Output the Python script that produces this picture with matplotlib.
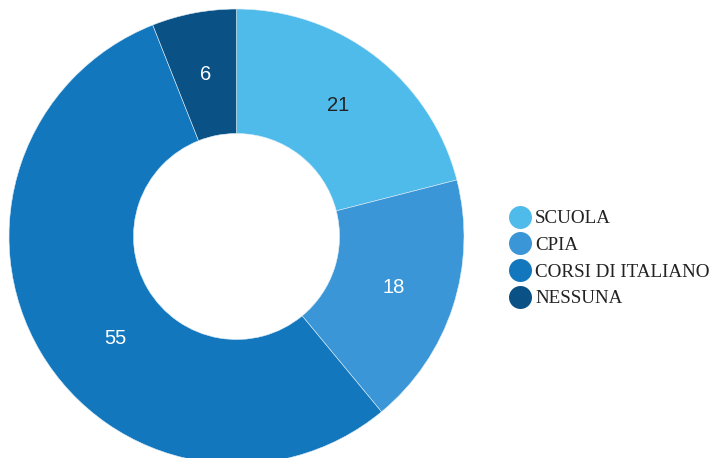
import matplotlib
matplotlib.use("Agg")
import matplotlib.pyplot as plt
import numpy as np

categories = ["SCUOLA", "CPIA", "CORSI DI ITALIANO", "NESSUNA"]
values = [21, 18, 55, 6]
colors = ["#4FBBEB", "#3A96D6", "#1377BD", "#0A5185"]
label_colors = ["#222222", "white", "white", "white"]

W, H = 714, 458
fig = plt.figure(figsize=(W / 100, H / 100), dpi=100)
ax = fig.add_axes([0, 0, 1, 1])
ax.set_xlim(0, W)
ax.set_ylim(0, H)
ax.set_aspect("equal")
ax.axis("off")

cx, cy = 236.5, H - 236.5
R, r = 227.5, 103
wedges, texts = ax.pie(values, colors=colors, startangle=90, counterclock=False,
                       center=(cx, cy), radius=R, labels=[str(v) for v in values],
                       labeldistance=(R + r) / 2 / R,
                       wedgeprops=dict(width=R - r, edgecolor="#dfeef8", linewidth=0.4),
                       textprops=dict(fontsize=14.5, family="Liberation Sans"))
for t, c in zip(texts, label_colors):
    t.set_color(c)
    t.set_ha("center")
    t.set_va("center")
# the large slice's label sits nearer the visible part of the ring
ang = np.deg2rad(90 - 230)
texts[2].set_position((cx + 158 * np.cos(ang), cy + 158 * np.sin(ang)))
ax.set_xlim(0, W)
ax.set_ylim(0, H)

ly0 = H - 216.5
pitch = 26.7
for i, (cat, col) in enumerate(zip(categories, colors)):
    y = ly0 - i * pitch
    ax.scatter([520], [y], s=(23 * 0.72) ** 2, color=col, zorder=3, linewidths=0)
    ax.text(535, y - 6.8, cat, fontsize=13.7, family="Liberation Serif", color="#222222",
            va="baseline", ha="left")

fig.savefig("out.png", dpi=100)
